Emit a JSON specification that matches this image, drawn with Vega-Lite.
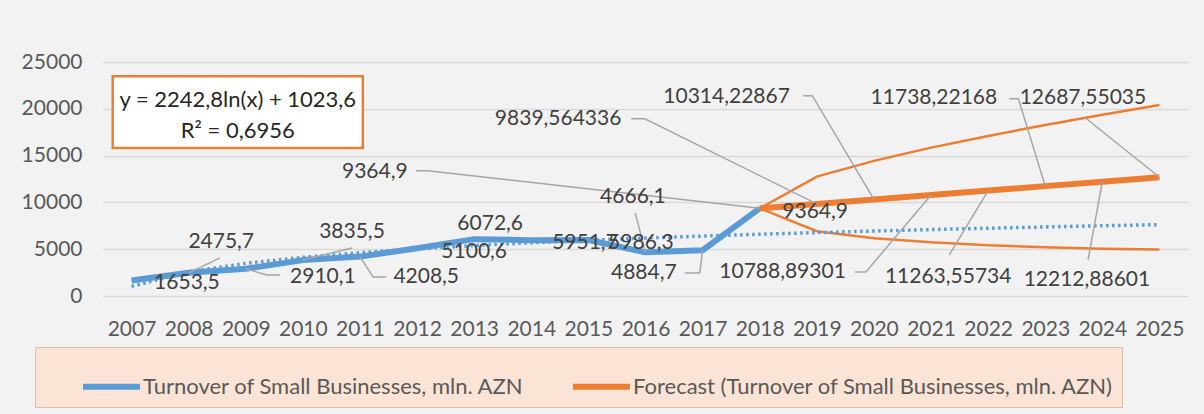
{
  "$schema": "https://vega.github.io/schema/vega-lite/v6.json",
  "autosize": {"type": "none"},
  "padding": {"left": 103, "top": 62, "right": 16, "bottom": 118},
  "width": 1085,
  "height": 234,
  "background": "#F3F2F3",
  "config": {
    "view": {"stroke": null},
    "font": "Lato",
    "axis": {"labelFont": "Lato", "labelFontSize": 21, "labelColor": "#595959", "domain": false, "ticks": false, "title": null, "gridColor": "#D9D9D9", "gridWidth": 1.5}
  },
  "datasets": {
    "main": [
      {"year": 2007, "value": 1653.5, "series": "Turnover of Small Businesses, mln. AZN"},
      {"year": 2008, "value": 2475.7, "series": "Turnover of Small Businesses, mln. AZN"},
      {"year": 2009, "value": 2910.1, "series": "Turnover of Small Businesses, mln. AZN"},
      {"year": 2010, "value": 3835.5, "series": "Turnover of Small Businesses, mln. AZN"},
      {"year": 2011, "value": 4208.5, "series": "Turnover of Small Businesses, mln. AZN"},
      {"year": 2012, "value": 5100.6, "series": "Turnover of Small Businesses, mln. AZN"},
      {"year": 2013, "value": 6072.6, "series": "Turnover of Small Businesses, mln. AZN"},
      {"year": 2014, "value": 5951.7, "series": "Turnover of Small Businesses, mln. AZN"},
      {"year": 2015, "value": 5986.3, "series": "Turnover of Small Businesses, mln. AZN"},
      {"year": 2016, "value": 4666.1, "series": "Turnover of Small Businesses, mln. AZN"},
      {"year": 2017, "value": 4884.7, "series": "Turnover of Small Businesses, mln. AZN"},
      {"year": 2018, "value": 9364.9, "series": "Turnover of Small Businesses, mln. AZN"},
      {"year": 2018, "value": 9364.9, "series": "Forecast (Turnover of Small Businesses, mln. AZN)"},
      {"year": 2019, "value": 9839.564336, "series": "Forecast (Turnover of Small Businesses, mln. AZN)"},
      {"year": 2020, "value": 10314.22867, "series": "Forecast (Turnover of Small Businesses, mln. AZN)"},
      {"year": 2021, "value": 10788.89301, "series": "Forecast (Turnover of Small Businesses, mln. AZN)"},
      {"year": 2022, "value": 11263.55734, "series": "Forecast (Turnover of Small Businesses, mln. AZN)"},
      {"year": 2023, "value": 11738.22168, "series": "Forecast (Turnover of Small Businesses, mln. AZN)"},
      {"year": 2024, "value": 12212.88601, "series": "Forecast (Turnover of Small Businesses, mln. AZN)"},
      {"year": 2025, "value": 12687.55035, "series": "Forecast (Turnover of Small Businesses, mln. AZN)"}
    ],
    "bounds": [
      {"year": 2018, "value": 9364.9, "bound": "upper"},
      {"year": 2019, "value": 12760, "bound": "upper"},
      {"year": 2020, "value": 14440, "bound": "upper"},
      {"year": 2021, "value": 15850, "bound": "upper"},
      {"year": 2022, "value": 17100, "bound": "upper"},
      {"year": 2023, "value": 18270, "bound": "upper"},
      {"year": 2024, "value": 19360, "bound": "upper"},
      {"year": 2025, "value": 20400, "bound": "upper"},
      {"year": 2018, "value": 9364.9, "bound": "lower"},
      {"year": 2019, "value": 6920, "bound": "lower"},
      {"year": 2020, "value": 6180, "bound": "lower"},
      {"year": 2021, "value": 5730, "bound": "lower"},
      {"year": 2022, "value": 5420, "bound": "lower"},
      {"year": 2023, "value": 5210, "bound": "lower"},
      {"year": 2024, "value": 5060, "bound": "lower"},
      {"year": 2025, "value": 4960, "bound": "lower"}
    ],
    "trend": [
      {"year": 2007, "value": 1023.6},
      {"year": 2008, "value": 2578.2},
      {"year": 2009, "value": 3487.6},
      {"year": 2010, "value": 4132.8},
      {"year": 2011, "value": 4633.2},
      {"year": 2012, "value": 5042.2},
      {"year": 2013, "value": 5387.9},
      {"year": 2014, "value": 5687.3},
      {"year": 2015, "value": 5951.6},
      {"year": 2016, "value": 6187.8},
      {"year": 2017, "value": 6401.6},
      {"year": 2018, "value": 6596.8},
      {"year": 2019, "value": 6776.2},
      {"year": 2020, "value": 6942.6},
      {"year": 2021, "value": 7097.3},
      {"year": 2022, "value": 7242.0},
      {"year": 2023, "value": 7377.9},
      {"year": 2024, "value": 7506.2},
      {"year": 2025, "value": 7627.3}
    ],
    "labels": [
      {"label": "1653,5", "lx": 2007.97, "ly": 1391},
      {"label": "2475,7", "lx": 2008.57, "ly": 5778},
      {"label": "2910,1", "lx": 2010.35, "ly": 2033},
      {"label": "3835,5", "lx": 2010.86, "ly": 6848},
      {"label": "4208,5", "lx": 2012.16, "ly": 2033},
      {"label": "5100,6", "lx": 2013.0, "ly": 4708},
      {"label": "6072,6", "lx": 2013.28, "ly": 7704},
      {"label": "5951,7", "lx": 2014.94, "ly": 5671},
      {"label": "5986,3", "lx": 2015.92, "ly": 5671},
      {"label": "4666,1", "lx": 2015.78, "ly": 10593},
      {"label": "4884,7", "lx": 2015.97, "ly": 2461},
      {"label": "9364,9", "lx": 2011.26, "ly": 13268},
      {"label": "9364,9", "lx": 2018.97, "ly": 8988},
      {"label": "9839,564336", "lx": 2014.47, "ly": 18939},
      {"label": "10314,22867", "lx": 2017.42, "ly": 21293},
      {"label": "10788,89301", "lx": 2018.4, "ly": 2568},
      {"label": "11263,55734", "lx": 2021.3, "ly": 2033},
      {"label": "11738,22168", "lx": 2021.05, "ly": 21186},
      {"label": "12212,88601", "lx": 2023.73, "ly": 1712},
      {"label": "12687,55035", "lx": 2023.66, "ly": 21186}
    ],
    "leaders": [
      {"id": 1, "ord": 1, "x": 2008.55, "y": 4066}, {"id": 1, "ord": 2, "x": 2008.0, "y": 2475.7},
      {"id": 2, "ord": 1, "x": 2009.6, "y": 2247}, {"id": 2, "ord": 2, "x": 2009.37, "y": 2247}, {"id": 2, "ord": 3, "x": 2009.0, "y": 2910.1},
      {"id": 3, "ord": 1, "x": 2010.86, "y": 5136}, {"id": 3, "ord": 2, "x": 2010.0, "y": 3835.5},
      {"id": 4, "ord": 1, "x": 2011.46, "y": 2033}, {"id": 4, "ord": 2, "x": 2011.23, "y": 2033}, {"id": 4, "ord": 3, "x": 2011.0, "y": 4208.5},
      {"id": 5, "ord": 1, "x": 2015.82, "y": 8881}, {"id": 5, "ord": 2, "x": 2016.0, "y": 4666.1},
      {"id": 6, "ord": 1, "x": 2016.69, "y": 2461}, {"id": 6, "ord": 2, "x": 2016.95, "y": 2461}, {"id": 6, "ord": 3, "x": 2017.0, "y": 4884.7},
      {"id": 7, "ord": 1, "x": 2011.98, "y": 13375}, {"id": 7, "ord": 2, "x": 2012.19, "y": 13375}, {"id": 7, "ord": 3, "x": 2018.0, "y": 9364.9},
      {"id": 8, "ord": 1, "x": 2015.75, "y": 18939}, {"id": 8, "ord": 2, "x": 2015.99, "y": 18939}, {"id": 8, "ord": 3, "x": 2019.0, "y": 9839.56},
      {"id": 9, "ord": 1, "x": 2018.76, "y": 21400}, {"id": 9, "ord": 2, "x": 2018.92, "y": 21400}, {"id": 9, "ord": 3, "x": 2020.0, "y": 10314.23},
      {"id": 10, "ord": 1, "x": 2019.67, "y": 2568}, {"id": 10, "ord": 2, "x": 2019.86, "y": 2568}, {"id": 10, "ord": 3, "x": 2021.0, "y": 10788.89},
      {"id": 11, "ord": 1, "x": 2021.32, "y": 4387}, {"id": 11, "ord": 2, "x": 2022.0, "y": 11263.56},
      {"id": 12, "ord": 1, "x": 2022.37, "y": 21079}, {"id": 12, "ord": 2, "x": 2022.53, "y": 21079}, {"id": 12, "ord": 3, "x": 2023.0, "y": 11738.22},
      {"id": 13, "ord": 1, "x": 2023.75, "y": 3852}, {"id": 13, "ord": 2, "x": 2024.0, "y": 12212.89},
      {"id": 14, "ord": 1, "x": 2023.7, "y": 19046}, {"id": 14, "ord": 2, "x": 2025.0, "y": 12687.55}
    ],
    "equation": [
      {"line": "y = 2242,8ln(x) + 1023,6", "lx": 2008.86, "ly": 20972},
      {"line": "R² = 0,6956", "lx": 2008.86, "ly": 17655}
    ]
  },
  "layer": [
    {
      "data": {"name": "bounds"},
      "mark": {"type": "line", "color": "#ED7D31", "strokeWidth": 2.5},
      "encoding": {
        "x": {"field": "year", "type": "quantitative", "scale": {"domain": [2006.5, 2025.5], "nice": false, "zero": false},
              "axis": {"values": [2007,2008,2009,2010,2011,2012,2013,2014,2015,2016,2017,2018,2019,2020,2021,2022,2023,2024,2025], "format": "d", "grid": false, "labelPadding": 22, "labelFlush": false}},
        "y": {"field": "value", "type": "quantitative", "scale": {"domain": [0, 25000], "nice": false},
              "axis": {"values": [0, 5000, 10000, 15000, 20000, 25000], "format": "d", "labelPadding": 21, "grid": true}},
        "detail": {"field": "bound"}
      }
    },
    {
      "data": {"name": "main"},
      "mark": {"type": "line", "strokeWidth": 6, "strokeJoin": "round"},
      "encoding": {
        "x": {"field": "year", "type": "quantitative"},
        "y": {"field": "value", "type": "quantitative"},
        "color": {"field": "series", "type": "nominal",
          "scale": {"domain": ["Turnover of Small Businesses, mln. AZN", "Forecast (Turnover of Small Businesses, mln. AZN)"], "range": ["#5B9BD5", "#ED7D31"]},
          "legend": {"title": null, "orient": "none", "legendX": -68, "legendY": 285, "direction": "horizontal",
            "symbolType": "stroke", "symbolSize": 3249, "symbolStrokeWidth": 6, "symbolOffset": 37, "labelFont": "Lato", "labelFontSize": 22, "labelColor": "#595959",
            "labelOffset": 0, "columnPadding": 8, "padding": 8, "fillColor": "#FBE4D5", "strokeColor": "#DDBFAC", "cornerRadius": 0, "labelLimit": 1000}}
      }
    },
    {
      "data": {"name": "trend"},
      "mark": {"type": "line", "color": "#5B9BD5", "strokeWidth": 3.5, "strokeDash": [2.5, 3.5]},
      "encoding": {
        "x": {"field": "year", "type": "quantitative"},
        "y": {"field": "value", "type": "quantitative"}
      }
    },
    {
      "data": {"name": "leaders"},
      "mark": {"type": "line", "color": "#A6A6A6", "strokeWidth": 1.5},
      "encoding": {
        "x": {"field": "x", "type": "quantitative"},
        "y": {"field": "y", "type": "quantitative"},
        "detail": {"field": "id"},
        "order": {"field": "ord"}
      }
    },
    {
      "data": {"name": "labels"},
      "mark": {"type": "text", "font": "Lato", "fontSize": 21, "color": "#404040", "baseline": "middle", "align": "center"},
      "encoding": {
        "x": {"field": "lx", "type": "quantitative"},
        "y": {"field": "ly", "type": "quantitative"},
        "text": {"field": "label"}
      }
    },
    {
      "data": {"values": [{"box": "equation"}]},
      "mark": {"type": "rect", "fill": "white", "stroke": "#ED7D31", "strokeWidth": 2.5},
      "encoding": {
        "x": {"datum": 2006.67, "type": "quantitative"},
        "x2": {"datum": 2011.05},
        "y": {"datum": 23465, "type": "quantitative"},
        "y2": {"datum": 15804}
      }
    },
    {
      "data": {"name": "equation"},
      "mark": {"type": "text", "font": "Lato", "fontSize": 22, "color": "#262626", "baseline": "middle", "align": "center"},
      "encoding": {
        "x": {"field": "lx", "type": "quantitative"},
        "y": {"field": "ly", "type": "quantitative"},
        "text": {"field": "line"}
      }
    }
  ]
}
